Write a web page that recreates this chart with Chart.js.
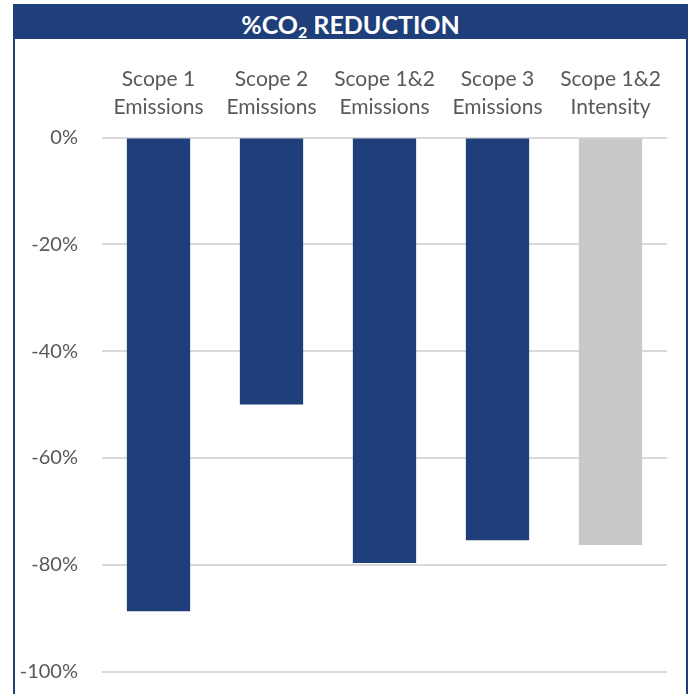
<!DOCTYPE html>
<html>
<head>
<meta charset="utf-8">
<script src="https://cdn.jsdelivr.net/npm/chart.js@4"></script>
<style>
  body { margin: 0; background: #fff; }
  #frame {
    position: absolute; left: 13px; top: 4px; width: 675px; height: 700px;
    border: 2px solid #1F3F7A; border-bottom: none; box-sizing: border-box;
  }
  #header {
    position: absolute; left: 13px; top: 4px; width: 675px; height: 35px; overflow: hidden;
    background: #1F3F7A; color: #fff; text-align: center;
    font-family: Lato, sans-serif; font-weight: bold; font-size: 25px; line-height: 40px;
  }
  #header sub { font-size: 16px; vertical-align: -4px; line-height: 0; }
  #wrap { position: absolute; left: 0; top: 0; width: 693px; height: 694px; }
</style>
</head>
<body>
<div id="frame"></div>
<div id="header">%CO<sub>2</sub> REDUCTION</div>
<div id="wrap"><canvas id="co2Chart"></canvas></div>
<script>
// categories and values
var categories = [
  ['Scope 1', 'Emissions'],
  ['Scope 2', 'Emissions'],
  ['Scope 1&2', 'Emissions'],
  ['Scope 3', 'Emissions'],
  ['Scope 1&2', 'Intensity']
];
var reduction = [-88.7, -50.0, -79.7, -75.4, -76.3];
var yTicks = [0, -20, -40, -60, -80, -100];

var barColors = ['#1F3F7A', '#1F3F7A', '#1F3F7A', '#1F3F7A', '#C8C9CB'];

var ctx = document.getElementById('co2Chart').getContext('2d');
new Chart(ctx, {
  type: 'bar',
  data: {
    labels: categories,
    datasets: [{
      data: reduction,
      backgroundColor: barColors,
      borderWidth: 0,
      categoryPercentage: 1,
      barPercentage: 0.56
    }]
  },
  options: {
    responsive: true,
    maintainAspectRatio: false,
    animation: false,
    layout: { padding: { top: 40, right: 26, bottom: 22.5, left: 0 } },
    plugins: {
      legend: { display: false },
      tooltip: { enabled: false }
    },
    scales: {
      x: {
        position: 'top',
        grid: { display: false, drawTicks: false },
        border: { display: false },
        ticks: {
          color: '#595959',
          font: { family: 'Lato', size: 21, lineHeight: 1.33 },
          padding: 16,
          maxRotation: 0
        },
        afterFit: function(axis) { axis.height = 97.5; }
      },
      y: {
        min: -100,
        max: 0,
        grid: { color: '#D9D9D9', lineWidth: 2, drawTicks: false },
        border: { display: false },
        afterBuildTicks: function(axis) {
          axis.ticks = yTicks.map(function(v) { return { value: v }; });
        },
        ticks: {
          color: '#595959',
          font: { family: 'Lato', size: 20 },
          padding: 24,
          callback: function(v) { return v + '%'; }
        },
        afterFit: function(axis) {
          axis.width = 102;
          // tick padding would otherwise eat space at top/bottom
          axis.paddingTop = 0;
          axis.paddingBottom = 0;
        }
      }
    }
  }
});
</script>
</body>
</html>
